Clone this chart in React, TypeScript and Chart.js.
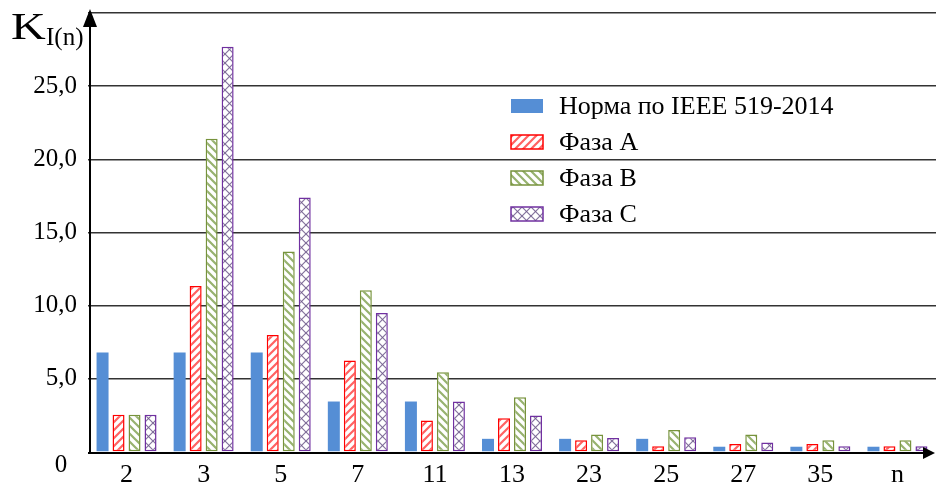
import React, { useEffect, useRef } from "react";
import { Chart, registerables } from "chart.js";

Chart.register(...registerables);

const categories = ["2", "3", "5", "7", "11", "13", "23", "25", "27", "35", "n"];
const normIEEE = [6.8, 6.8, 6.8, 3.45, 3.45, 0.9, 0.9, 0.9, 0.36, 0.36, 0.36];
const phaseA = [2.55, 11.35, 8.0, 6.25, 2.15, 2.3, 0.8, 0.4, 0.55, 0.55, 0.4];
const phaseB = [2.55, 21.4, 13.7, 11.05, 5.45, 3.75, 1.2, 1.5, 1.2, 0.8, 0.8];
const phaseC = [2.55, 27.7, 17.4, 9.5, 3.45, 2.5, 0.95, 1.0, 0.65, 0.4, 0.4];
const seriesNames = ["Норма по IEEE 519-2014", "Фаза А", "Фаза В", "Фаза С"];
const yTickValues = [5, 10, 15, 20, 25];

const FONT = '"Liberation Serif", "Times New Roman", serif';

function makePattern(kind: string, color: string, lw: number, size: number) {
  const c = document.createElement("canvas");
  c.width = size;
  c.height = size;
  const g = c.getContext("2d")!;
  g.fillStyle = "#ffffff";
  g.fillRect(0, 0, size, size);
  g.strokeStyle = color;
  g.lineWidth = lw;
  g.lineCap = "square";
  const s = size;
  const slash = () => {
    g.beginPath();
    g.moveTo(0, s);
    g.lineTo(s, 0);
    g.moveTo(-2, 2);
    g.lineTo(2, -2);
    g.moveTo(s - 2, s + 2);
    g.lineTo(s + 2, s - 2);
    g.stroke();
  };
  const back = () => {
    g.beginPath();
    g.moveTo(0, 0);
    g.lineTo(s, s);
    g.moveTo(-2, s - 2);
    g.lineTo(2, s + 2);
    g.moveTo(s - 2, -2);
    g.lineTo(s + 2, 2);
    g.stroke();
  };
  if (kind === "/") slash();
  else if (kind === "\\") back();
  else {
    slash();
    back();
  }
  return g.createPattern(c, "repeat")!;
}

const axesPlugin = {
  id: "axesPlugin",
  afterDraw(chart: any) {
    const { ctx, chartArea } = chart;
    const { left, bottom } = chartArea;
    ctx.save();
    ctx.strokeStyle = "#000";
    ctx.fillStyle = "#000";
    ctx.lineWidth = 2;
    // x axis
    ctx.beginPath();
    ctx.moveTo(left, bottom + 1);
    ctx.lineTo(926, bottom + 1);
    ctx.stroke();
    ctx.beginPath();
    ctx.moveTo(935, bottom + 1);
    ctx.lineTo(923, bottom - 5);
    ctx.lineTo(923, bottom + 7);
    ctx.closePath();
    ctx.fill();
    // y axis
    const ax = left + 2;
    ctx.beginPath();
    ctx.moveTo(ax, bottom + 2);
    ctx.lineTo(ax, 22);
    ctx.stroke();
    ctx.beginPath();
    ctx.moveTo(ax, 9);
    ctx.lineTo(ax - 7, 27);
    ctx.lineTo(ax + 7, 27);
    ctx.closePath();
    ctx.fill();
    // axis title
    ctx.textAlign = "left";
    ctx.textBaseline = "alphabetic";
    ctx.save();
    ctx.translate(11, 39);
    ctx.scale(1.3, 1);
    ctx.font = `37px ${FONT}`;
    ctx.fillText("K", 0, 0);
    ctx.restore();
    ctx.font = `25px ${FONT}`;
    ctx.fillText("I(n)", 46, 45);
    // zero label
    ctx.textAlign = "center";
    ctx.fillText("0", 61, 472);
    ctx.restore();
  },
};

const legendPlugin = {
  id: "customLegend",
  afterDraw(chart: any) {
    const { ctx } = chart;
    ctx.save();
    chart.data.datasets.forEach((ds: any, i: number) => {
      const cy = 106 + i * 36;
      const bx = 511;
      const bw = 32;
      const bh = 14;
      ctx.fillStyle = ds.backgroundColor;
      ctx.fillRect(bx, cy - bh / 2, bw, bh);
      if (ds.borderWidth) {
        ctx.strokeStyle = ds.borderColor;
        ctx.lineWidth = 1.5;
        ctx.strokeRect(bx, cy - bh / 2, bw, bh);
      }
      ctx.fillStyle = "#000";
      ctx.font = `26px ${FONT}`;
      ctx.textAlign = "left";
      ctx.textBaseline = "middle";
      ctx.fillText(ds.label, 559, cy + 1);
    });
    ctx.restore();
  },
};

export default function App() {
  const ref = useRef<HTMLCanvasElement>(null);
  useEffect(() => {
    const canvas = ref.current!;
    const redPat = makePattern("/", "rgba(255,70,70,0.85)", 2.2, 8);
    const greenPat = makePattern("\\", "rgba(140,170,95,0.9)", 2.2, 8);
    const purplePat = makePattern("x", "rgba(110,90,140,0.85)", 1.2, 9);
    const common = {
      barPercentage: 0.75,
      categoryPercentage: 0.83,
      borderSkipped: false,
    };
    const chart = new Chart(canvas, {
      type: "bar",
      data: {
        labels: categories,
        datasets: [
          { ...common, label: seriesNames[0], data: normIEEE, backgroundColor: "#558ED5", borderWidth: 0 },
          { ...common, label: seriesNames[1], data: phaseA, backgroundColor: redPat, borderColor: "#FF0000", borderWidth: 1.5 },
          { ...common, label: seriesNames[2], data: phaseB, backgroundColor: greenPat, borderColor: "#77933C", borderWidth: 1.5 },
          { ...common, label: seriesNames[3], data: phaseC, backgroundColor: purplePat, borderColor: "#7030A0", borderWidth: 1.5 },
        ] as any,
      },
      options: {
        responsive: false,
        animation: false,
        devicePixelRatio: 1,
        layout: { padding: { top: 13, left: 0, right: 0, bottom: 0 } },
        plugins: { legend: { display: false }, tooltip: { enabled: false } },
        scales: {
          x: {
            grid: { display: false },
            border: { display: false },
            ticks: {
              font: { family: FONT, size: 26 },
              color: "#000",
              padding: 0,
              maxRotation: 0,
              autoSkip: false,
            },
            afterFit(s: any) {
              s.height = 31;
              s.paddingLeft = 0;
              s.paddingRight = 0;
            },
          },
          y: {
            min: 0,
            max: 30,
            afterBuildTicks(s: any) {
              s.ticks = [0, ...yTickValues, 30].map((v) => ({ value: v }));
            },
            ticks: {
              font: { family: FONT, size: 25 },
              color: "#000",
              padding: 11,
              callback: (v: any) =>
                v === 0 || v === 30 ? "" : Number(v).toFixed(1).replace(".", ","),
            },
            grid: {
              color: (c: any) => (c.tick && c.tick.value === 0 ? "rgba(0,0,0,0)" : "#333333"),
              lineWidth: 1.5,
              drawTicks: false,
            },
            border: { display: false },
            afterFit(s: any) {
              s.width = 88;
              s.paddingTop = 0;
              s.paddingBottom = 0;
            },
          },
        },
      } as any,
      plugins: [axesPlugin, legendPlugin],
    });
    return () => chart.destroy();
  }, []);
  return (
    <div style={{ position: "fixed", left: 0, top: 0, width: 936, height: 483, background: "#fff" }}>
      <canvas ref={ref} width={936} height={483} style={{ display: "block", width: 936, height: 483 }} />
    </div>
  );
}
